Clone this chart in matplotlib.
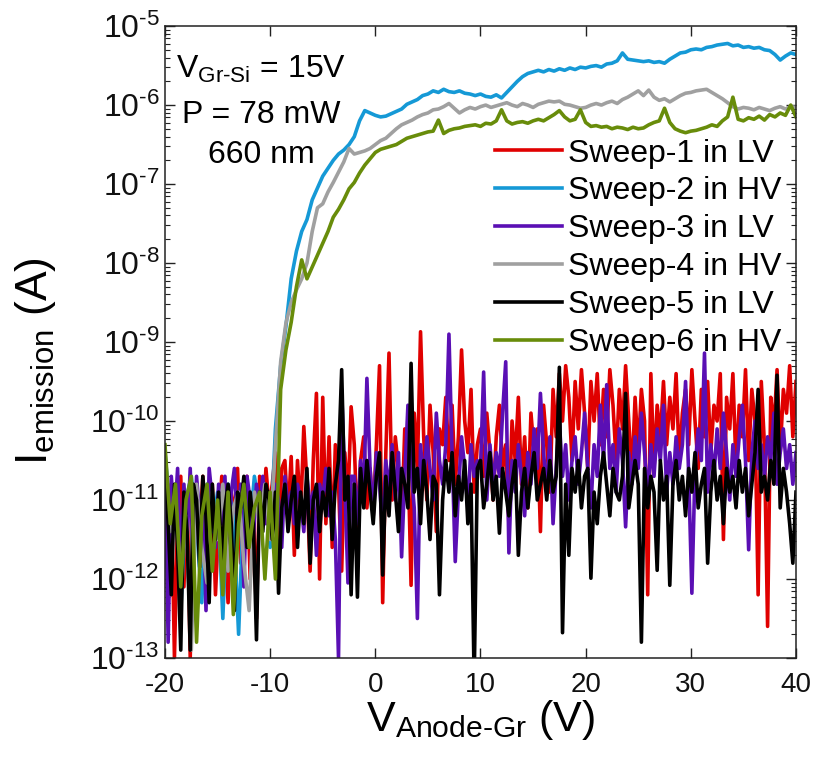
import numpy as np
import matplotlib
matplotlib.use('Agg')
import matplotlib.pyplot as plt
from matplotlib.ticker import LogLocator, NullFormatter, FuncFormatter

plt.rcParams['font.family'] = ['Liberation Sans', 'DejaVu Sans']
plt.rcParams['mathtext.fontset'] = 'custom'
plt.rcParams['mathtext.rm'] = 'Liberation Sans'
plt.rcParams['mathtext.it'] = 'Liberation Sans:italic'
plt.rcParams['mathtext.default'] = 'regular'
plt.rcParams['axes.unicode_minus'] = False

# sweep range of V_Anode-Gr (V)
V_START, V_STOP = -20.0, 40.0

# log10 of emission current (A)
# LV sweeps: 0.3 V steps
sweep1_lv = [
    -10.5, -11.6, -10.8, -13.0, -11.2, -10.7, -12.1, -10.9, -13.0, -11.1,
    -10.8, -11.4, -10.7, -11.9, -11.0, -10.8, -12.2, -11.3, -10.7, -11.6,
    -12.3, -10.9, -11.2, -10.6, -11.8, -11.0, -10.7, -12.0, -11.1, -12.5,
    -10.7, -11.3, -10.6, -11.1, -10.8, -10.4, -11.5, -10.6, -10.5, -11.2,
    -10.45, -11.7, -10.5, -11.2, -10.07, -10.8, -11.9, -10.5, -9.65, -12.0,
    -9.7, -11.3, -10.2, -11.6, -10.3, -10.8, -11.9, -10.4, -11.0, -9.82,
    -10.3, -11.4, -10.5, -10.2, -11.1, -10.6, -11.2, -10.3, -9.3, -12.3,
    -10.4, -9.14, -11.0, -10.2, -10.6, -11.3, -10.1, -10.4, -12.08, -9.9,
    -10.6, -8.87, -10.2, -11.0, -9.8, -10.4, -11.4, -10.1, -10.3, -9.7,
    -10.5, -9.8, -10.8, -10.2, -9.1, -10.0, -10.4, -9.6, -10.9, -10.3,
    -10.1, -10.7, -9.9, -10.4, -11.0, -10.2, -9.8, -10.6, -10.3, -11.3,
    -10.0, -10.5, -9.7, -10.8, -10.2, -11.1, -9.9, -10.4, -10.1, -11.4,
    -9.8, -10.3, -10.9, -9.6, -10.2, -9.4, -10.0, -9.3, -9.7, -10.5,
    -9.5, -10.1, -9.35, -9.9, -10.6, -9.5, -10.0, -9.4, -10.3, -9.6,
    -10.2, -9.35, -9.8, -10.5, -9.6, -10.1, -9.3, -10.0, -10.7, -9.7,
    -10.4, -9.6, -10.0, -12.2, -9.4, -10.6, -9.8, -10.2, -9.5, -10.3,
    -9.7, -10.1, -9.4, -10.5, -9.9, -9.6, -10.3, -9.35, -10.0, -10.6,
    -9.6, -10.2, -9.5, -10.4, -9.8, -10.0, -9.4, -11.5, -9.7, -10.1,
    -9.4, -10.6, -9.8, -10.2, -9.35, -10.5, -9.6, -10.0, -12.2, -9.5,
    -10.3, -12.6, -9.7, -10.1, -9.35, -10.4, -9.6, -9.9, -9.3, -10.2,
    -9.5,
]
sweep3_lv = [
    -10.4, -12.8, -10.7, -11.3, -10.6, -12.0, -10.8, -11.5, -10.6, -11.9,
    -10.7, -11.2, -10.9, -12.4, -10.6, -11.0, -11.6, -10.8, -11.3, -10.7,
    -11.8, -10.9, -10.6, -11.4, -10.8, -12.1, -10.7, -11.0, -11.5, -10.8,
    -11.1, -10.7, -11.3, -10.9, -11.2, -10.8, -11.0, -11.6, -10.7, -11.1,
    -10.9, -11.3, -10.8, -11.0, -11.4, -10.7, -11.1, -10.9, -11.7, -10.8,
    -11.0, -10.6, -11.2, -10.9, -11.5, -13.0, -9.6, -10.8, -12.05, -10.7,
    -10.7, -11.3, -10.5, -10.9, -9.46, -10.6, -11.2, -10.4, -10.8, -11.4,
    -10.5, -10.9, -10.3, -11.0, -10.4, -11.72, -10.7, -9.8, -10.6, -11.1,
    -12.5, -10.3, -10.8, -10.2, -10.6, -11.0, -9.9, -10.5, -10.8, -10.3,
    -8.9, -10.4, -11.78, -10.9, -10.2, -10.6, -11.1, -10.3, -10.7, -10.5,
    -10.6, -9.38, -11.0, -10.3, -10.8, -10.4, -10.7, -9.9, -9.25, -11.67,
    -10.5, -10.9, -10.3, -10.7, -11.2, -10.4, -10.8, -10.1, -10.6, -9.65,
    -10.4, -10.9, -10.2, -11.3, -10.6, -10.0, -10.7, -10.3, -11.0, -10.5,
    -10.2, -10.8, -10.4, -9.9, -10.6, -11.1, -10.3, -10.7, -9.8, -10.5,
    -9.54, -10.6, -10.3, -10.9, -10.1, -10.5, -11.34, -10.4, -10.8, -10.2,
    -10.6, -9.9, -10.4, -11.0, -10.3, -10.7, -10.1, -10.5, -9.8, -10.9,
    -10.4, -10.8, -10.2, -10.6, -10.3, -9.5, -10.7, -12.18, -10.6, -10.1,
    -10.5, -9.14, -10.9, -10.3, -10.7, -10.1, -10.6, -9.9, -10.4, -11.0,
    -10.3, -10.7, -10.2, -9.8, -10.5, -11.63, -10.4, -10.0, -10.6, -10.3,
    -10.7, -10.2, -10.5, -9.9, -10.8, -10.4, -10.1, -10.6, -10.3, -10.8,
    -10.4,
]
sweep5_lv = [
    -10.5, -11.3, -12.2, -10.8, -11.6, -12.9, -10.9, -11.4, -12.9, -10.8,
    -11.0, -11.85, -10.7, -11.2, -12.3, -10.8, -11.5, -10.9, -11.8, -11.1,
    -10.8, -11.3, -12.4, -10.9, -11.1, -10.7, -11.6, -10.9, -11.3, -12.77,
    -10.9, -11.4, -10.8, -11.0, -11.5, -10.9, -12.18, -11.1, -10.8, -11.4,
    -11.0, -10.7, -11.6, -10.9, -11.3, -10.6, -11.8, -11.0, -10.8, -11.4,
    -10.9, -11.2, -10.6, -11.5, -10.8, -10.5, -9.35, -11.0, -10.7, -12.2,
    -10.8, -12.23, -10.6, -11.1, -10.5, -10.9, -11.3, -10.7, -10.4, -11.95,
    -10.7, -11.2, -10.4, -10.9, -11.4, -10.6, -10.8, -11.1, -9.27, -10.9,
    -10.6, -11.3, -10.5, -10.9, -11.5, -10.7, -10.8, -12.2, -11.0, -10.5,
    -10.9, -10.4, -11.2, -10.7, -11.0, -10.5, -11.3, -10.8, -13.3, -10.6,
    -10.5, -11.1, -10.8, -10.4, -11.0, -10.7, -11.42, -10.6, -10.9, -11.2,
    -10.8, -10.5, -11.7, -10.9, -10.6, -11.1, -10.7, -10.4, -11.0, -10.8,
    -10.6, -11.0, -10.5, -10.9, -10.7, -9.32, -12.68, -10.8, -11.7, -10.6,
    -10.9, -10.5, -11.1, -10.7, -10.6, -11.99, -10.9, -11.3, -10.7, -10.4,
    -10.8, -11.2, -10.6, -10.9, -11.0, -10.7, -9.65, -11.1, -10.8, -10.5,
    -10.8, -12.8, -10.6, -11.1, -10.7, -10.9, -11.89, -10.5, -11.0, -10.7,
    -12.08, -10.8, -10.5, -11.0, -10.7, -11.2, -10.6, -10.9, -10.4, -11.1,
    -10.8, -10.6, -11.8, -10.9, -10.5, -11.0, -10.7, -11.3, -10.6, -10.9,
    -10.7, -11.1, -10.5, -10.9, -10.6, -11.2, -10.8, -10.4, -9.6, -10.9,
    -10.7, -11.0, -10.5, -10.8, -9.42, -11.1, -10.6, -10.9, -11.3, -11.8,
    -10.9,
]

# HV sweeps: 0.5 V steps
sweep2_hv = [
    -10.4, -11.2, -10.9, -12.4, -11.0, -10.7, -11.3, -12.3, -10.8, -11.4,
    -10.9, -12.5, -10.8, -11.2, -12.7, -10.9, -11.5, -10.7, -11.1, -10.8,
    -11.6,
    -10.1, -9.3, -8.8, -8.2, -7.85, -7.6, -7.45, -7.2, -7.05, -6.9,
    -6.8, -6.7, -6.62, -6.57, -6.5, -6.4, -6.2, -6.07, -6.1, -6.13,
    -6.15, -6.14, -6.11, -6.08, -6.05, -5.99, -5.96, -5.93, -5.88, -5.86,
    -5.82, -5.84, -5.80, -5.83, -5.84, -5.82, -5.85, -5.86, -5.88, -5.86,
    -5.89, -5.9, -5.87, -5.91, -5.84, -5.77, -5.7, -5.64, -5.6, -5.58,
    -5.56, -5.58, -5.55, -5.57, -5.54, -5.56, -5.53, -5.55, -5.52, -5.53,
    -5.51, -5.5, -5.52, -5.48, -5.47, -5.44, -5.34, -5.42, -5.43, -5.44,
    -5.45, -5.44, -5.46, -5.45, -5.47, -5.42, -5.38, -5.34, -5.33, -5.3,
    -5.29, -5.3, -5.27, -5.26, -5.24, -5.23, -5.22, -5.25, -5.24, -5.27,
    -5.26, -5.28, -5.27, -5.3, -5.31, -5.36, -5.43, -5.38, -5.34, -5.36,
]
sweep4_hv = [
    -10.5, -11.4, -11.0, -12.0, -11.2, -12.9, -10.8, -11.6, -12.05, -10.9,
    -11.5, -10.8, -11.9, -11.1, -10.9, -11.8, -12.4, -10.9, -11.3, -10.8,
    -11.5,
    -10.3, -9.25, -8.76, -8.5, -8.34, -8.2, -8.0, -7.6, -7.3, -7.25,
    -7.1, -6.98, -6.85, -6.72, -6.55, -6.62, -6.6, -6.58, -6.55, -6.5,
    -6.45, -6.42, -6.36, -6.3, -6.25, -6.22, -6.19, -6.15, -6.12, -6.1,
    -6.06, -6.05, -6.02, -5.98, -6.04, -6.1, -6.06, -6.03, -6.05, -6.02,
    -6.0, -6.03, -6.01, -5.99, -5.97, -6.0, -6.02, -5.98, -6.0, -6.03,
    -5.99, -5.97, -5.95, -5.96, -5.95, -5.99, -6.0, -6.02, -6.04, -6.03,
    -6.0, -5.98, -6.0, -5.97, -5.95, -5.98, -5.93, -5.9, -5.86, -5.82,
    -5.88, -5.81, -5.9, -5.94, -5.92, -5.96, -5.92, -5.88, -5.85, -5.84,
    -5.82, -5.81, -5.8, -5.84, -5.88, -5.92, -5.97, -6.02, -6.05, -6.03,
    -6.04, -6.06, -6.03, -6.05, -6.07, -6.04, -6.02, -6.05, -6.02, -6.03,
]
sweep6_hv = [
    -10.3, -11.3, -10.8, -12.1, -11.0, -10.7, -12.8, -11.2, -10.8, -11.9,
    -11.0, -12.2, -10.9, -12.45, -11.3, -10.8, -11.6, -11.1, -10.9, -12.0,
    -10.9,
    -12.0, -9.6, -9.1, -8.75, -8.3, -7.96, -8.2, -8.05, -7.9, -7.75,
    -7.6, -7.42, -7.32, -7.2, -7.06, -6.98, -6.86, -6.76, -6.68, -6.6,
    -6.56, -6.54, -6.52, -6.5, -6.46, -6.42, -6.4, -6.38, -6.36, -6.34,
    -6.33, -6.19, -6.36, -6.32, -6.3, -6.29, -6.27, -6.26, -6.25, -6.27,
    -6.23, -6.24, -6.2, -6.06, -6.2, -6.24, -6.22, -6.21, -6.23, -6.2,
    -6.18, -6.2, -6.16, -6.12, -6.07, -6.15, -6.2, -6.18, -6.06, -6.22,
    -6.27, -6.26, -6.28, -6.27, -6.3, -6.28, -6.29, -6.31, -6.28, -6.3,
    -6.29, -6.25, -6.22, -6.2, -6.04, -6.22, -6.3, -6.33, -6.35, -6.33,
    -6.32, -6.3, -6.28, -6.25, -6.27, -6.2, -6.15, -5.9, -6.18, -6.2,
    -6.16, -6.18, -6.14, -6.19, -6.12, -6.15, -6.1, -6.13, -6.0, -6.15,
]

labels = ['Sweep-1 in LV', 'Sweep-2 in HV', 'Sweep-3 in LV',
          'Sweep-4 in HV', 'Sweep-5 in LV', 'Sweep-6 in HV']
colors = ['#e00000', '#1599d6', '#5a0fb4', '#a0a0a0', '#000000', '#688c0a']
sweeps = [sweep1_lv, sweep2_hv, sweep3_lv, sweep4_hv, sweep5_lv, sweep6_hv]

fig = plt.figure(figsize=(8.27, 7.65), dpi=100)
ax = fig.add_axes([0.1995, 0.1399, 0.763, 0.826])

for lab, col, vals in zip(labels, colors, sweeps):
    v = np.linspace(V_START, V_STOP, len(vals))
    ax.plot(v, 10.0 ** np.array(vals), color=col, lw=2.6, label=lab)

ax.set_yscale('log')
ax.set_xlim(-20, 40)
ax.set_ylim(1e-13, 1e-5)
ax.set_xticks(np.arange(-20, 41, 10))
ax.yaxis.set_major_locator(LogLocator(base=10, numticks=20))
ax.yaxis.set_minor_locator(LogLocator(base=10, subs=np.arange(2, 10), numticks=20))
ax.yaxis.set_minor_formatter(NullFormatter())
ax.yaxis.set_major_formatter(
    FuncFormatter(lambda val, pos: '10$^{\u2010%d}$' % round(-np.log10(val))))

ax.tick_params(which='both', direction='in', top=True, right=True, colors='#222222')
ax.tick_params(which='major', length=7, width=1.0)
ax.tick_params(which='minor', length=3.5, width=0.8)
ax.tick_params(axis='x', labelsize=20, pad=10, labelcolor='#111111')
ax.tick_params(axis='y', labelsize=23, pad=4, labelcolor='#111111')
for sp in ax.spines.values():
    sp.set_linewidth(1.1)
    sp.set_color('#222222')

ax.set_xlabel('V$_{\\mathrm{Anode\u2010Gr}}$ (V)', fontsize=31, labelpad=0)
ax.set_ylabel('I$_{\\mathrm{emission}}$ (A)', fontsize=32)
ax.yaxis.set_label_coords(-0.17, 0.47)

ax.text(0.152, 0.918, 'V$_{\\mathrm{Gr\u2010Si}}$ = 15V', transform=ax.transAxes,
        ha='center', va='baseline', fontsize=23)
ax.text(0.152, 0.847, 'P = 78 mW', transform=ax.transAxes,
        ha='center', va='baseline', fontsize=23)
ax.text(0.152, 0.783, '660 nm', transform=ax.transAxes,
        ha='center', va='baseline', fontsize=23)

ax.legend(loc='upper left', bbox_to_anchor=(0.523, 0.822), frameon=False,
          fontsize=23, handlelength=2.1, handletextpad=0.2,
          labelspacing=0.245, borderpad=0, borderaxespad=0)

fig.savefig('out.png', dpi=100)
